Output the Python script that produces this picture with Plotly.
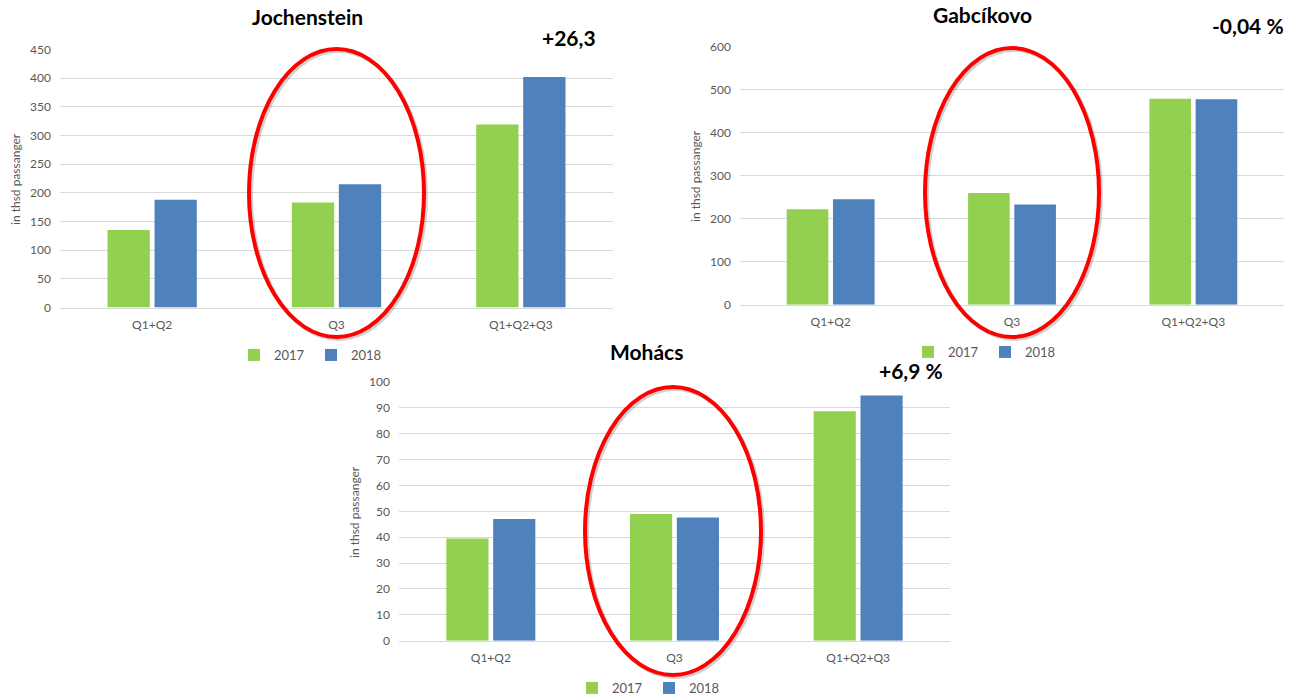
import plotly.graph_objects as go

W, H = 1309, 698

categories = ["Q1+Q2", "Q3", "Q1+Q2+Q3"]
series_names = ["2017", "2018"]

jochenstein_2017 = [135, 183, 319]
jochenstein_2018 = [188, 215, 402]
gabcikovo_2017 = [222, 260, 479]
gabcikovo_2018 = [245, 233, 478]
mohacs_2017 = [39.5, 49, 88.7]
mohacs_2018 = [47, 47.6, 94.8]

chart_titles = ["Jochenstein", "Gabcíkovo", "Mohács"]
change_labels = ["+26,3", "-0,04 %", "+6,9 %"]
y_title = "in thsd passanger"

GREEN = "#92d050"
BLUE = "#4f81bd"
GRID = "#d9d9d9"
TXT = "#595959"
FONT = "Lato, Open Sans, sans-serif"


def px(x):
    return x / W


def py(y):
    return 1 - y / H


fig = go.Figure()

charts = [
    dict(v17=jochenstein_2017, v18=jochenstein_2018, ax="", legend="legend",
         xdom=(60, 613), ydom=(49.5, 307.5), yrange=[0, 450], dtick=50),
    dict(v17=gabcikovo_2017, v18=gabcikovo_2018, ax="2", legend="legend2",
         xdom=(740, 1284), ydom=(46.7, 304.7), yrange=[0, 600], dtick=100),
    dict(v17=mohacs_2017, v18=mohacs_2018, ax="3", legend="legend3",
         xdom=(399, 950), ydom=(382, 640.7), yrange=[0, 100], dtick=10),
]

for c in charts:
    for name, vals, col in [(series_names[0], c["v17"], GREEN), (series_names[1], c["v18"], BLUE)]:
        fig.add_trace(go.Bar(
            x=categories, y=vals, name=name, marker_color=col,
            marker_line_width=0,
            xaxis="x" + c["ax"], yaxis="y" + c["ax"], legend=c["legend"],
            hoverinfo="x+y+name",
        ))

layout = dict(
    width=W, height=H,
    margin=dict(l=0, r=0, t=0, b=0, autoexpand=False),
    paper_bgcolor="white", plot_bgcolor="white",
    barmode="group", bargap=0.49, bargroupgap=0.1,
    font=dict(family=FONT, color=TXT, size=12),
)

for i, c in enumerate(charts):
    s = c["ax"]
    xa = "xaxis" + s
    ya = "yaxis" + s
    layout[xa] = dict(
        domain=[px(c["xdom"][0]), px(c["xdom"][1])],
        anchor="y" + s, showgrid=False, showline=True, linecolor=GRID,
        linewidth=1, ticks="", tickfont=dict(size=12, color=TXT),
        ticklabelstandoff=6, fixedrange=True, automargin=False,
    )
    layout[ya] = dict(
        domain=[py(c["ydom"][1]), py(c["ydom"][0])],
        anchor="x" + s, range=c["yrange"], dtick=c["dtick"],
        showgrid=True, gridcolor=GRID, gridwidth=1, zeroline=False,
        showline=False, ticks="", tickfont=dict(size=12, color=TXT),
        ticklabelstandoff=8, fixedrange=True, automargin=False,
    )

legend_pos = [(311, 355), (985, 352), (649, 688)]
for i, (lx, ly) in enumerate(legend_pos):
    key = "legend" if i == 0 else "legend%d" % (i + 1)
    layout[key] = dict(
        orientation="h", x=px(lx), y=py(ly), xanchor="center", yanchor="middle",
        font=dict(size=13, color=TXT), bgcolor="rgba(0,0,0,0)",
        itemwidth=30, tracegroupgap=0, entrywidth=32, entrywidthmode="pixels",
    )

fig.update_layout(**layout)

# Titles
title_pos = [(307, 17), (982, 15), (646, 351)]
for t, (tx, ty) in zip(chart_titles, title_pos):
    fig.add_annotation(text="<b>%s</b>" % t, x=px(tx), y=py(ty), xref="paper", yref="paper",
                       xanchor="center", yanchor="middle", showarrow=False,
                       font=dict(size=21, color="black", family=FONT))

# Change labels
chg_pos = [(598, 37), (1286, 25), (945, 370)]
for t, (tx, ty) in zip(change_labels, chg_pos):
    fig.add_annotation(text="<b>%s</b>" % t, x=px(tx), y=py(ty), xref="paper", yref="paper",
                       xanchor="right", yanchor="middle", showarrow=False,
                       font=dict(size=21, color="black", family=FONT))

# Y axis titles
yt_pos = [(15, 179), (696, 176), (354, 512)]
for (tx, ty) in yt_pos:
    fig.add_annotation(text=y_title, x=px(tx), y=py(ty), xref="paper", yref="paper",
                       xanchor="center", yanchor="middle", showarrow=False, textangle=-90,
                       font=dict(size=12, color=TXT, family=FONT))

# Red ellipses highlighting Q3
ellipses = [(249, 424, 49, 337), (925, 1099, 48, 337), (585, 761, 387, 675)]
for (x0, x1, y0, y1) in ellipses:
    fig.add_shape(type="circle", xref="paper", yref="paper",
                  x0=px(x0 + 2), x1=px(x1 + 2), y0=py(y1 + 2), y1=py(y0 + 2),
                  line=dict(color="rgba(0,0,0,0.18)", width=4), layer="above")
    fig.add_shape(type="circle", xref="paper", yref="paper",
                  x0=px(x0), x1=px(x1), y0=py(y1), y1=py(y0),
                  line=dict(color="#ff0000", width=4), layer="above")

fig.write_html("out.html")
